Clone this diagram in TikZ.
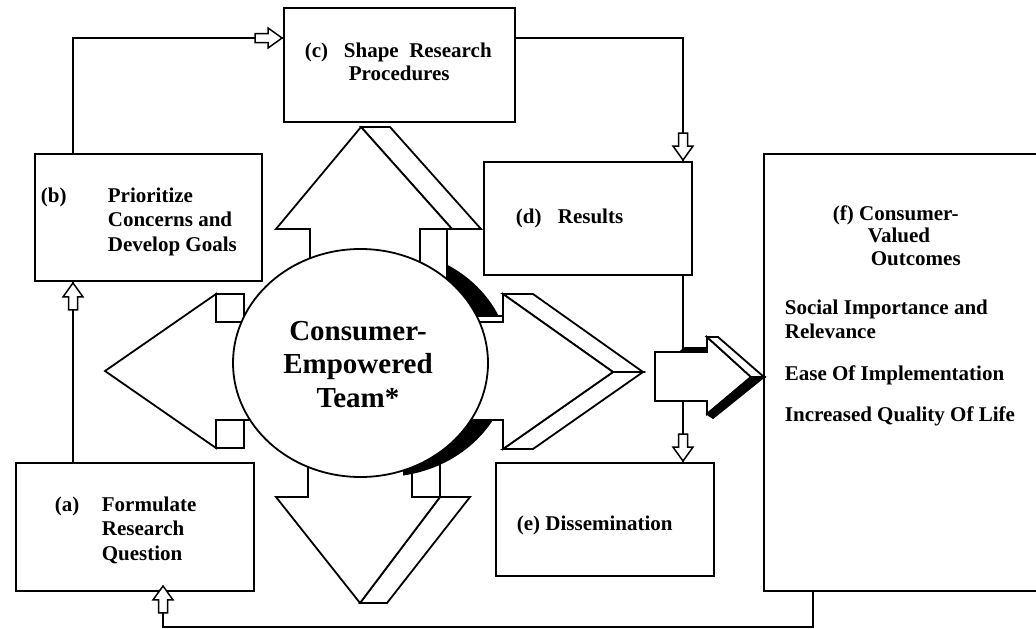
\documentclass[tikz,border=0pt]{standalone}
\usepackage{fontspec}
\setmainfont{Liberation Serif}
\usepackage{tikz}
\usetikzlibrary{calc}
\def\opentip{\tikz[x=1pt,y=1pt,line width=1.5pt]{
	\draw[fill=white] (0,-4.5)--(13,-4.5)--(13,-10)--(27,0)--(13,10)--(13,4.5)--(0,4.5)--cycle;}
	}

\begin{document}
\begin{tikzpicture}[x=1pt,y=-1pt,line width=1.8pt,
	box/.style={draw,line width=2.4pt,inner sep=0pt},
	link/.style={line width=2pt},
	tipnode/.style={anchor=east,inner sep=0pt,outer sep=0pt},
	face/.style={draw,fill=white},
	boxtext/.style={anchor=base west,inner sep=0pt,font=\fontsize{21}{24.5}\selectfont\bfseries}]
	\useasboundingbox (0,0) rectangle (1036,629);
	% boxes
	\node[box,minimum width=238,minimum height=128] (a) at (135,527) {};
	\node[box,minimum width=227,minimum height=127] (b) at (148.5,217.5) {};
	\node[box,minimum width=231,minimum height=114] (c) at (399.5,65) {};
	\node[box,minimum width=208,minimum height=113] (d) at (588,218.5) {};
	\node[box,minimum width=218,minimum height=113] (e) at (605,519.5) {};
	\node[box,minimum width=280,minimum height=437] (f) at (904,372.5) {};
	% connectors
	\coordinate (ab) at (73,0);
	\coordinate (bc) at (73,38);
	\coordinate (cd) at (683,38);
	\coordinate (fa) at (813,627);
	\coordinate (af) at (163,627);
	\draw[link] (a.north -| ab) -- (b.south -| ab);
	\draw[link] (b.north -| bc) -- (bc) -- (bc -| c.west);
	\draw[link] (c.east |- cd) -- (cd) -- (cd |- d.north);
	\draw[link] (cd |- d.south) -- (cd |- e.north);
	\draw[link] (f.south -| fa) -- (fa) -- (af) -- (af |- a.south);
	% up arrow
	\draw[face] (420,300)--(420,229)--(447,229)--(447,300);
	\draw[face] (361,127)--(390,127)--(481,229)--(452,229)--cycle;
	\draw[face] (310,300)--(310,229)--(276,229)--(361,127)--(452,229)--(420,229)--(420,300);
	% right arrow
	\draw[face] (450,322)--(450,316)--(503,316)--(503,322);
	\draw[face] (503,294)--(533,294)--(643,372)--(613,372)--cycle;
	\draw[face] (503,449)--(533,449)--(643,372)--(613,372)--cycle;
	\draw[face] (440,322)--(503,322)--(503,294)--(613,372)--(503,449)--(503,420)--(440,420);
	% down arrow
	\draw[face] (412,440)--(412,497)--(440,497)--(440,440);
	\draw[face] (440,497)--(470,497)--(387,603)--(360,603)--cycle;
	\draw[face] (308,440)--(308,497)--(276,497)--(360,603)--(440,497)--(412,497)--(412,440);
	% left arrow
	\draw[face] (216,294) rectangle (244,322);
	\draw[face] (216,420) rectangle (244,448);
	\draw[face] (290,322)--(216,322)--(216,294)--(105,371)--(216,448)--(216,420)--(290,420);
	% dark side of the team disc
	\begin{scope}
		\clip (447,200) rectangle (502,315);
		\fill (382.5,363) ellipse [x radius=127.5,y radius=114];
	\end{scope}
	\begin{scope}
		\clip (403,421) rectangle (502,520);
		\fill (382.5,363) ellipse [x radius=127.5,y radius=114];
	\end{scope}
	\draw[fill=white] (360.5,363) ellipse [x radius=127.5,y radius=114];
	\node[anchor=base,inner sep=0pt,font=\fontsize{29}{33.5}\selectfont\bfseries] (team) at (358,340)
		{\begin{tabular}[t]{@{}c@{}}Consumer-\\Empowered\\Team*\end{tabular}};
	% outcome arrow
	\draw[face] (655,352)--(707,352)--(707,337)--(751,377)--(707,414)--(707,401)--(655,401)--cycle;
	\draw[face] (707,337)--(718,337)--(764,377)--(751,377)--cycle;
	\draw[fill=black] (707,414)--(751,377)--(764,377)--(713,418)--cycle;
	\draw[fill=black] (680,352)--(685,348)--(707,348)--(707,352)--cycle;
	% open tips
	\node[tipnode,rotate=90] (tab) at (b.south -| ab) {\opentip};
	\node[tipnode] (tbc) at (bc -| c.west) {\opentip};
	\node[tipnode,rotate=-90] (tcd) at (cd |- d.north) {\opentip};
	\node[tipnode,rotate=-90] (tde) at (cd |- e.north) {\opentip};
	\node[tipnode,rotate=90] (tfa) at ($(af |- a.south)+(0,-7)$) {\opentip};
	% texts
	\node[boxtext] (at) at (54,511) {\begin{tabular}[t]{@{}l@{}}\makebox[47pt][l]{(a)}Formulate\\
		\hspace*{47pt}Research\\ \hspace*{47pt}Question\end{tabular}};
	\node[boxtext] (bt) at (40,202) {\begin{tabular}[t]{@{}l@{}}\makebox[67pt][l]{(b)}Prioritize\\
		\hspace*{67pt}Concerns and\\ \hspace*{67pt}Develop Goals\end{tabular}};
	\node[boxtext] (ct) at (304,57) {\begin{tabular}[t]{@{}l@{}}\makebox[39pt][l]{(c)}Shape~~Research\\[-1.5pt]
		\hspace*{44pt}Procedures\end{tabular}};
	\node[boxtext] (dt) at (515,223) {\makebox[42pt][l]{(d)}Results};
	\node[boxtext] (et) at (516,530) {(e) Dissemination};
	\node[boxtext,font=\fontsize{21}{22.5}\selectfont\bfseries] (ft) at (832,220)
		{\begin{tabular}[t]{@{}l@{}}(f) Consumer-\\ \hspace*{35pt}Valued\\ \hspace*{38pt}Outcomes\end{tabular}};
	\node[boxtext] (gt) at (784,314) {\begin{tabular}[t]{@{}l@{}}Social Importance and\\Relevance\\[17pt]
		Ease Of Implementation\\[17pt]Increased Quality Of Life\end{tabular}};
\end{tikzpicture}
\end{document}
